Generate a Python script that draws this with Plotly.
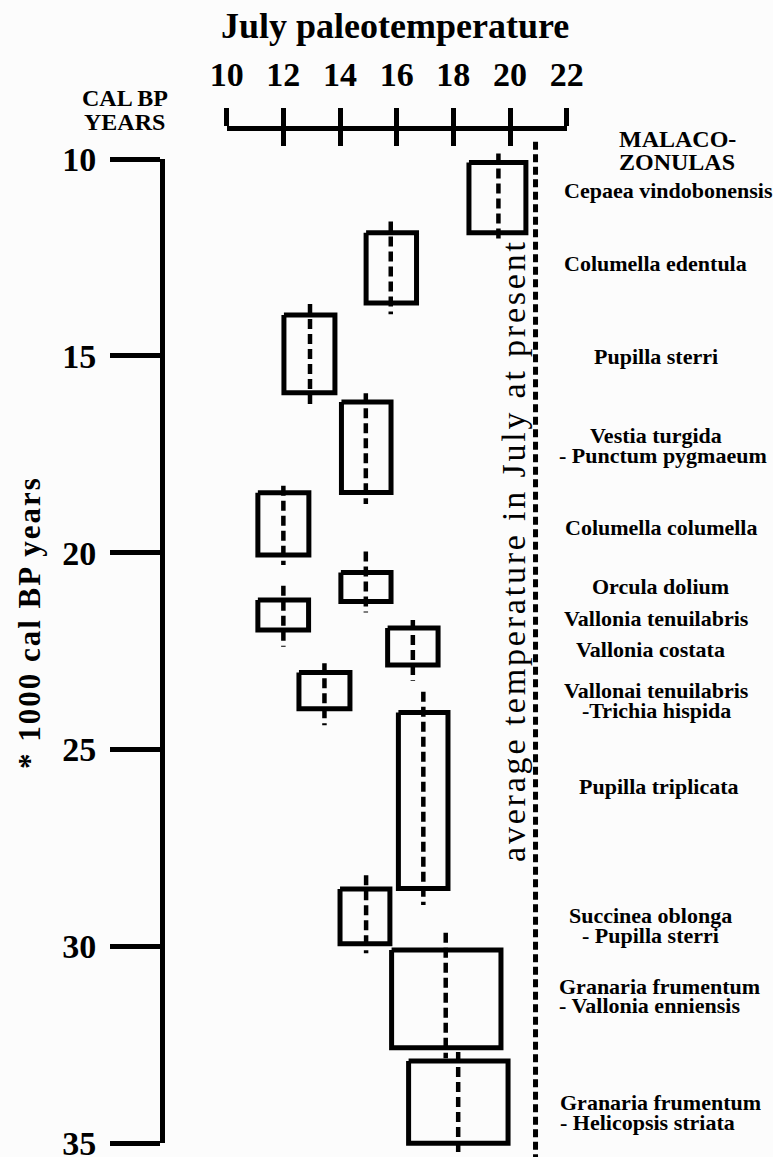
import plotly.graph_objects as go

W, H = 773, 1157
SERIF = "Liberation Serif"

# July temperature scale (deg C) and age scale (ka cal BP)
TEMP_TICKS = [10, 12, 14, 16, 18, 20, 22]
AGE_TICKS = [10, 15, 20, 25, 30, 35]

# Malacozones, youngest first
ZONE_LABELS = [
    ["Cepaea vindobonensis"],
    ["Columella edentula"],
    ["Pupilla sterri"],
    ["Vestia turgida", "- Punctum pygmaeum"],
    ["Columella columella"],
    ["Orcula dolium"],
    ["Vallonia tenuilabris"],
    ["Vallonia costata"],
    ["Vallonai tenuilabris", "-Trichia hispida"],
    ["Pupilla triplicata"],
    ["Succinea oblonga", "- Pupilla sterri"],
    ["Granaria frumentum", "- Vallonia enniensis"],
    ["Granaria frumentum", "- Helicopsis striata"],
]
# temperature range of each zone (box width) and mean value (dashed line)
T_LOW = [18.55, 14.92, 12.02, 14.05, 11.10, 14.03, 11.10, 15.68, 12.55, 16.06, 14.00, 15.82, 16.42]
T_HIGH = [20.56, 16.70, 13.82, 15.80, 12.90, 15.80, 12.89, 17.46, 14.35, 17.81, 15.76, 19.68, 19.93]
T_MEAN = [19.59, 15.79, 12.94, 14.91, 12.00, 14.91, 12.00, 16.57, 13.45, 16.94, 14.92, 17.73, 18.17]
# age span of each zone (box height)
AGE_TOP = [10.09, 11.87, 13.96, 16.17, 18.48, 20.50, 21.20, 21.91, 23.04, 24.06, 28.54, 30.09, 32.91]
AGE_BOTTOM = [11.87, 13.66, 15.94, 18.47, 20.06, 21.24, 21.96, 22.85, 23.96, 28.53, 29.93, 32.57, 35.00]
# age span of the mean-temperature line
MEAN_TOP = [9.86, 11.59, 13.68, 15.95, 18.30, 19.97, 20.84, 21.71, 22.81, 23.53, 28.19, 29.65, 32.68]
MEAN_BOTTOM = [12.14, 13.94, 16.35, 18.76, 20.31, 21.52, 22.39, 23.25, 24.38, 28.95, 30.17, 32.84, 35.40]
# present-day July mean
PRESENT_JULY = 20.9
PRESENT_TOP_AGE = 9.56

# ---- page geometry (pixels) ----
X10_PX, X22_PX = 226.7, 566.7      # temperature ruler ends
Y10_PX, Y35_PX = 159.0, 1143.3     # age axis ends
RULER_Y_PX = 128.0
AGE_AXIS_X_PX = 162.0

sx = (X22_PX - X10_PX) / (TEMP_TICKS[-1] - TEMP_TICKS[0])
sy = (Y35_PX - Y10_PX) / (AGE_TICKS[-1] - AGE_TICKS[0])
x_range = [TEMP_TICKS[0] - X10_PX / sx, TEMP_TICKS[0] + (W - X10_PX) / sx]
y_range = [AGE_TICKS[0] + (H - Y10_PX) / sy, AGE_TICKS[0] - Y10_PX / sy]

# label placement: (x px, first-line y px, anchor)
LABEL_POS = [
    (668, 190, "center"), (655, 263, "center"), (656, 356, "center"),
    (656, 435, "center"), (661, 527, "center"), (660, 586, "center"),
    (656, 618, "center"), (650, 649, "center"), (656, 690, "center"),
    (659, 786, "center"), (650, 915, "center"), (557, 986, "left"),
    (558, 1102, "left"),
]
SECOND_LINE_X = [None, None, None, 663, None, None, None, None, 656, None, 650, 557, 558]
LINE_GAP = 20

fig = go.Figure()

# zone boxes and mean lines
for lo, hi, mean, top, bot, mtop, mbot in zip(T_LOW, T_HIGH, T_MEAN, AGE_TOP, AGE_BOTTOM,
                                             MEAN_TOP, MEAN_BOTTOM):
    fig.add_trace(go.Scatter(
        x=[lo, hi, hi, lo, lo], y=[top, top, bot, bot, top], mode="lines",
        line=dict(color="black", width=5), hoverinfo="skip", showlegend=False))
    fig.add_trace(go.Scatter(
        x=[mean, mean], y=[mtop, mbot], mode="lines",
        line=dict(color="black", width=4.5, dash="10px,5px"),
        hoverinfo="skip", showlegend=False))

# present-day reference line
fig.add_trace(go.Scatter(
    x=[PRESENT_JULY, PRESENT_JULY], y=[PRESENT_TOP_AGE, y_range[0]], mode="lines",
    line=dict(color="black", width=5, dash="8px,4.5px"),
    hoverinfo="skip", showlegend=False))

# carriers for the drawn axes
for xa in ("x2", "x3"):
    fig.add_trace(go.Scatter(x=[None], y=[None], xaxis=xa, yaxis="y2",
                             hoverinfo="skip", showlegend=False))

tick_font = dict(family=SERIF, size=34, color="black", weight="bold")

annotations = []


def add_text(text, xp, yp, size, weight="bold", xanchor="center", angle=0):
    annotations.append(dict(
        text=text, x=xp / W, y=1 - yp / H, xref="paper", yref="paper",
        xanchor=xanchor, yanchor="middle", showarrow=False, textangle=angle,
        font=dict(family=SERIF, size=size, color="black", weight=weight)))


add_text("July paleotemperature", 395, 26, 36)
add_text("CAL BP", 125, 98, 24)
add_text("YEARS", 125, 122, 24)
add_text("MALACO-", 677, 139, 24)
add_text("ZONULAS", 677, 162, 24)
add_text('<span style="letter-spacing:2px">* 1000 cal BP years</span>', 29, 623, 31, angle=-90)
add_text('<span style="letter-spacing:2.8px">average temperature in July at present</span>',
         513, 551, 34, weight="normal", angle=-90)

for lines, (xp, yp, anchor), x2p in zip(ZONE_LABELS, LABEL_POS, SECOND_LINE_X):
    add_text(lines[0], xp, yp, 22, xanchor=anchor)
    if len(lines) > 1:
        add_text(lines[1], x2p, yp + LINE_GAP, 22, xanchor=anchor)

fig.update_layout(
    width=W, height=H, autosize=False,
    margin=dict(l=0, r=0, t=0, b=0, pad=0, autoexpand=False),
    paper_bgcolor="#fcfcfc", plot_bgcolor="rgba(0,0,0,0)",
    showlegend=False,
    xaxis=dict(domain=[0, 1], range=x_range, visible=False, automargin=False),
    yaxis=dict(domain=[0, 1], range=y_range, visible=False, automargin=False),
    xaxis2=dict(
        domain=[X10_PX / W, X22_PX / W], range=[TEMP_TICKS[0], TEMP_TICKS[-1]],
        anchor="free", position=1 - RULER_Y_PX / H, side="top",
        showline=True, linewidth=5, linecolor="black",
        ticks="outside", ticklen=18, tickwidth=5, tickcolor="black",
        tickvals=TEMP_TICKS, ticktext=[str(t) for t in TEMP_TICKS],
        tickfont=tick_font, ticklabelstandoff=8, ticklabeloverflow="allow",
        showgrid=False, zeroline=False, automargin=False),
    xaxis3=dict(
        domain=[X10_PX / W, X22_PX / W], range=[TEMP_TICKS[0], TEMP_TICKS[-1]],
        anchor="free", position=1 - RULER_Y_PX / H, side="top",
        showline=False, ticks="inside", ticklen=17, tickwidth=5, tickcolor="black",
        tickvals=TEMP_TICKS, showticklabels=False,
        showgrid=False, zeroline=False, automargin=False),
    yaxis2=dict(
        domain=[1 - Y35_PX / H, 1 - Y10_PX / H], range=[AGE_TICKS[-1], AGE_TICKS[0]],
        anchor="free", position=AGE_AXIS_X_PX / W, side="left",
        showline=True, linewidth=5, linecolor="black",
        ticks="outside", ticklen=50, tickwidth=5, tickcolor="black",
        tickvals=AGE_TICKS, ticktext=[str(t) for t in AGE_TICKS],
        tickfont=tick_font, ticklabelstandoff=7, ticklabeloverflow="allow",
        showgrid=False, zeroline=False, automargin=False),
    annotations=annotations,
)

fig.write_html("out.html")
